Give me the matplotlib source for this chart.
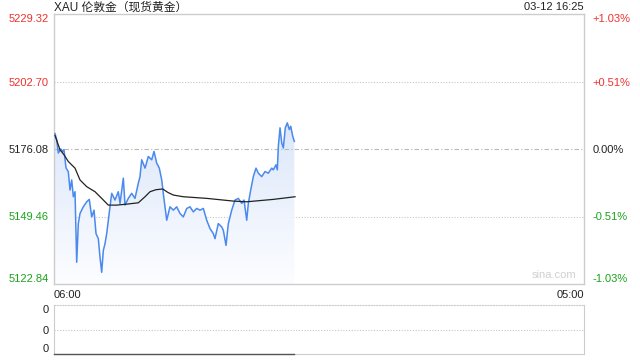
import numpy as np
import matplotlib.pyplot as plt
from matplotlib.path import Path
from matplotlib.patches import PathPatch
from matplotlib.colors import LinearSegmentedColormap

plt.rcParams['font.family'] = ['Liberation Sans', 'Noto Sans CJK SC', 'DejaVu Sans']

title = 'XAU 伦敦金（现货黄金）'
stamp = '03-12 16:25'
base = 5176.08
y_ticks = [5122.84, 5149.46, 5176.08, 5202.70, 5229.32]
x_labels = ['06:00', '05:00']
span_min = 1380  # 06:00 to 05:00 next day

# minutes after 06:00, price
t_price = [2.6, 7, 11.2, 17.4, 22.7, 26, 31.2, 37.2, 41.7, 46.1, 50.3, 54.7, 59.1, 63.3,
           67.7, 76.3, 85.2, 91.9, 98.2, 104.2, 109.4, 115.4, 119.8, 124.2, 128.4, 132.8,
           137.2, 145.8, 150.3, 158.8, 167.4, 171.9, 180.5, 184.9, 193.5, 202.3, 210.9,
           219.5, 223.9, 228.4, 237, 245.6, 254.4, 260.4, 267.4, 274.2, 280.5, 284.6, 289,
           293.5, 302, 310.7, 319.5, 328.1, 336.7, 345.6, 354.1, 362.7, 371.6, 380.2, 388.8,
           397.6, 406.2, 414.8, 419.2, 427.8, 436.7, 440.9, 447.9, 453.9, 462.7, 471.3,
           479.9, 488.8, 494.8, 501.8, 506, 512.2, 519, 526, 532, 540.9, 549.4, 558, 566.9,
           571.1, 578.1, 581.5, 584.1, 588.5, 593, 597.1, 602.3, 607.5, 612.7, 616.4,
           621.6, 625.7]
price = [5182.16, 5179.77, 5174.49, 5176.08, 5175.13, 5175.8, 5168.65, 5167.18, 5159.91,
         5163.88, 5157.25, 5159.23, 5131.42, 5146.68, 5150.65, 5153.28, 5155.26, 5156.21,
         5149.3, 5151.96, 5142.71, 5140.72, 5133.41, 5127.45, 5136.07, 5138.73, 5142.71,
         5153.28, 5158.6, 5155.94, 5159.23, 5154.63, 5164.56, 5153.95, 5156.61, 5158.6,
         5156.61, 5162.57, 5165.19, 5171.83, 5168.53, 5173.14, 5171.83, 5175.13, 5170.52,
         5168.53, 5163.88, 5158.6, 5153.28, 5147.99, 5153.28, 5151.96, 5153.28, 5150.65,
         5149.3, 5152.64, 5153.28, 5151.29, 5152.64, 5151.96, 5152.64, 5147.99, 5144.69,
         5142.71, 5140.72, 5146.68, 5145.33, 5144.02, 5138.06, 5146.68, 5151.96, 5155.94,
         5156.61, 5154.63, 5155.94, 5147.99, 5154.63, 5159.91, 5165.19, 5168.53, 5166.55,
         5165.19, 5167.18, 5166.55, 5168.53, 5167.86, 5169.85, 5167.86, 5177.11, 5184.42,
         5178.46, 5176.48, 5184.42, 5186.41, 5183.75, 5185.05, 5181.08, 5179.1]

t_avg = [2.6, 15.6, 26, 37.2, 54.7, 67.7, 85.2, 106.8, 124.2, 141.4, 163.3, 190.1, 219.5,
         237, 250, 265.6, 283.1, 296.9, 310.7, 336.7, 397.6, 466.9, 501.8, 571.1, 627.6]
avg = [5181.4, 5175.8, 5173.82, 5171.15, 5168.53, 5163.88, 5161.22, 5159.23, 5156.61,
       5153.95, 5153.95, 5154.35, 5154.86, 5157.25, 5159.23, 5160.03, 5160.31, 5158.92,
       5157.92, 5157.25, 5156.61, 5155.54, 5155.26, 5156.21, 5157.25]

t_vol = [0, 625]
volume = [0, 0]

red = '#f0302f'
green = '#1aa31a'
grid = '#c8c8c8'
edge = '#cccccc'

fig = plt.figure(figsize=(6.4, 3.6), dpi=100)
ax = fig.add_axes([54 / 640, 1 - 284 / 360, 530 / 640, 270 / 360])
ax.set_xlim(0, span_min)
ax.set_ylim(y_ticks[0], y_ticks[-1])

# gradient fill under the price line, bluish near the line, fading to white
verts = list(zip(t_price, price)) + [(t_price[-1], y_ticks[0]), (t_price[0], y_ticks[0])]
clip = PathPatch(Path(verts), facecolor='none', edgecolor='none')
ax.add_patch(clip)
grad = np.linspace(0, 1, 256).reshape(-1, 1)
cmap = LinearSegmentedColormap.from_list('g', ['#fcfdff', '#dce7fa'])
img = ax.imshow(grad, extent=[0, t_price[-1], y_ticks[0], max(price)], aspect='auto',
                cmap=cmap, origin='lower', zorder=1)
img.set_clip_path(clip)

ax.axhline(y_ticks[1], color=grid, lw=0.8, ls=(0, (1, 1.5)), zorder=0)
ax.axhline(y_ticks[3], color=grid, lw=0.8, ls=(0, (1, 1.5)), zorder=0)
ax.axhline(base, color='#b8b8b8', lw=0.8, ls=(0, (4, 2, 1, 2)), zorder=2)

ax.plot(t_price, price, color='#4a89ee', lw=1.1, zorder=3)
ax.plot(t_avg, avg, color='#222222', lw=0.9, zorder=4)

for s in ax.spines.values():
    s.set_color(edge)
    s.set_linewidth(1)

ax.set_yticks(y_ticks)
ax.set_yticklabels([f'{v:.2f}' for v in y_ticks])
ax.tick_params(axis='y', length=0, pad=4, labelsize=8)
cols = [green, green, '#222222', red, red]
for lab, c in zip(ax.get_yticklabels(), cols):
    lab.set_color(c)
ax.get_yticklabels()[0].set_va('bottom')
ax.get_yticklabels()[-1].set_va('top')

ax.set_xticks([0, span_min])
ax.set_xticklabels(x_labels)
ax.tick_params(axis='x', length=0, pad=4, labelsize=8, labelcolor='#222222')
ax.get_xticklabels()[0].set_ha('left')
ax.get_xticklabels()[1].set_ha('right')

axr = ax.twinx()
axr.set_ylim(ax.get_ylim())
axr.set_yticks(y_ticks)
pct = [(v / base - 1) * 100 for v in y_ticks]
axr.set_yticklabels([('+' if p > 0.001 else '') + f'{p:.2f}%' for p in pct])
axr.tick_params(axis='y', length=0, pad=6, labelsize=8)
for lab, c in zip(axr.get_yticklabels(), cols):
    lab.set_color(c)
axr.get_yticklabels()[0].set_va('bottom')
axr.get_yticklabels()[-1].set_va('top')
for s in axr.spines.values():
    s.set_visible(False)

fig.text(54 / 640, 1 - 7.5 / 360, title, ha='left', va='center',
         fontsize=8.5, color='#222222')
fig.text(584 / 640, 1 - 7.5 / 360, stamp, ha='right', va='center',
         fontsize=8, color='#222222')
ax.text(0.985, 0.015, 'sina.com', transform=ax.transAxes, ha='right', va='bottom',
        fontsize=8, color='#d0d0d0')

# volume panel
av = fig.add_axes([54 / 640, 1 - 354 / 360, 530 / 640, 49 / 360])
av.set_xlim(0, span_min)
av.set_ylim(0, 1)
av.plot(t_vol, volume, color='#555555', lw=1.0, clip_on=False, zorder=3)
av.axhline(0.5, color=grid, lw=0.8, ls=(0, (1, 1.5)))
av.set_xticks([])
av.set_yticks([0, 0.5, 1])
av.set_yticklabels(['0', '0', '0'])
av.tick_params(axis='y', length=0, pad=4, labelsize=8, labelcolor='#222222')
av.get_yticklabels()[0].set_va('bottom')
av.get_yticklabels()[-1].set_va('top')
for s in av.spines.values():
    s.set_color(edge)
av.spines['top'].set_linestyle((0, (1, 1.5)))

fig.savefig('out.png', dpi=100)
